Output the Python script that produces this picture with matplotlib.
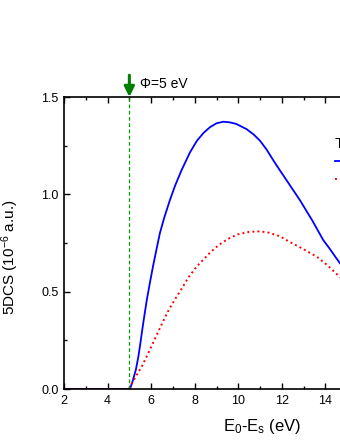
import numpy as np
import matplotlib.pyplot as plt

plt.rcParams['font.family'] = ['Liberation Sans', 'DejaVu Sans']
plt.rcParams['mathtext.default'] = 'regular'

# energy loss E0-Es (eV) and 5DCS (10^-6 a.u.)
x_blue = [2.0, 3.0, 4.0, 4.8, 5.03, 5.15, 5.3, 5.41, 5.5, 5.6, 5.7, 5.8, 5.95, 6.08,
          6.25, 6.4, 6.6, 6.86, 7.1, 7.4, 7.78, 8.1, 8.4, 8.7, 9.0, 9.31, 9.6, 9.9,
          10.38, 10.7, 11.0, 11.3, 11.6, 11.9, 12.2, 12.5, 12.83, 13.1, 13.4, 13.65,
          13.9, 14.2, 14.45, 14.66, 15.0, 15.5, 16.0]
y_blue = [0.0, 0.0, 0.0, 0.0, 0.0, 0.04, 0.10, 0.164, 0.23, 0.31, 0.385, 0.457, 0.55, 0.627,
          0.72, 0.80, 0.88, 0.97, 1.045, 1.125, 1.215, 1.275, 1.315, 1.345, 1.365, 1.373, 1.37, 1.362,
          1.335, 1.308, 1.275, 1.23, 1.176, 1.125, 1.075, 1.025, 0.97, 0.92, 0.865, 0.815,
          0.765, 0.72, 0.68, 0.647, 0.60, 0.535, 0.47]

x_red = [2.0, 3.0, 4.0, 4.8, 5.0, 5.1, 5.3, 5.58, 5.85, 6.1, 6.33, 6.56, 6.8, 7.09,
         7.4, 7.69, 8.1, 8.4, 8.7, 9.0, 9.3, 9.6, 10.0, 10.5, 11.0, 11.4, 11.9, 12.37,
         12.8, 13.2, 13.6, 14.1, 14.57, 15.0, 15.5, 16.0]
y_red = [0.0, 0.0, 0.0, 0.0, 0.0, 0.026, 0.065, 0.118, 0.18, 0.24, 0.295, 0.35, 0.405, 0.46,
         0.515, 0.57, 0.63, 0.665, 0.70, 0.73, 0.755, 0.775, 0.795, 0.807, 0.81, 0.803, 0.785, 0.755,
         0.73, 0.705, 0.68, 0.635, 0.585, 0.545, 0.50, 0.455]

phi = 5.0

fig = plt.figure(figsize=(3.4, 4.4), dpi=100)
ax = fig.add_axes([64/340, 51/440, 305/340, 292/440])

ax.plot(x_blue, y_blue, color='#0000ff', lw=1.3, label=' ')
ax.plot(x_red, y_red, color='#ff0000', lw=1.4, linestyle=(0, (1, 1.6)), label=' ')

ax.axvline(phi, color='#00a000', lw=0.9, linestyle=(0, (3, 2)))
ax.annotate('', xy=(phi, 1.5), xytext=(phi, 1.612), annotation_clip=False,
            arrowprops=dict(arrowstyle='-|>,head_length=0.6,head_width=0.3',
                            color='#008000', lw=2.2, shrinkA=0, shrinkB=0))
ax.text(phi + 0.5, 1.565, 'Φ=5 eV', fontsize=10, va='center', ha='left')

ax.set_xlim(2, 16)
ax.set_ylim(0, 1.5)
ax.set_xticks([2, 4, 6, 8, 10, 12, 14, 16])
ax.set_xticks(np.arange(2, 17, 1), minor=True)
ax.set_yticks([0.0, 0.5, 1.0, 1.5])
ax.set_yticks(np.arange(0, 1.51, 0.25), minor=True)
ax.set_yticklabels(['0.0', '0.5', '1.0', '1.5'])
ax.tick_params(which='both', direction='in', top=True, right=True, labelsize=9, width=1.0)
ax.tick_params(which='major', length=4.5, pad=4)
ax.tick_params(which='minor', length=2.5)
for s in ax.spines.values():
    s.set_linewidth(1.2)

ax.set_xlabel('E$_0$-E$_s$ (eV)', fontsize=12)
ax.xaxis.set_label_coords((262 - 64) / 305, -0.095)
ax.set_ylabel('5DCS (10$^{-6}$ a.u.)', fontsize=11)
ax.yaxis.set_label_coords(-(64 - 21) / 305, 0.45)

leg = ax.legend(title='Theory', loc='upper left', bbox_to_anchor=(14.43, 1.295),
                bbox_transform=ax.transData, frameon=False, borderpad=0,
                borderaxespad=0, handlelength=2, fontsize=10, title_fontsize=11,
                labelspacing=0.3, alignment='left')

fig.savefig('out.png', dpi=100)
